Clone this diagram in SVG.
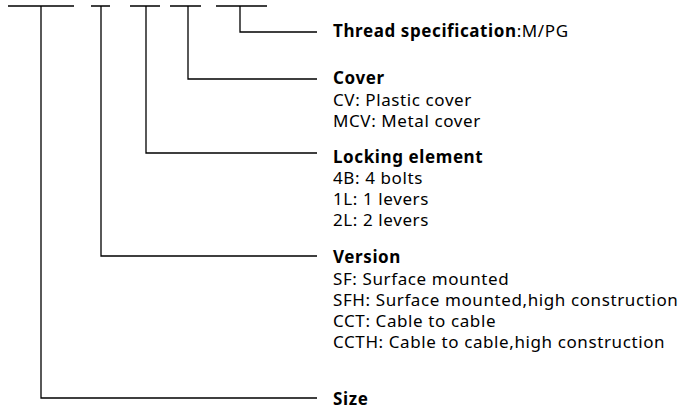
<svg xmlns="http://www.w3.org/2000/svg" width="694" height="410" viewBox="0 0 694 410">
<style>
text{font-family:"Noto Sans","Open Sans",sans-serif;font-size:17px;letter-spacing:0.6px;fill:#000}
.b{font-weight:bold;letter-spacing:0.6px}
.ln{stroke:#000;stroke-width:1.3;fill:none}
</style>
<rect width="694" height="410" fill="#fff"/>
<g id="connectors">
<path class="ln" d="M8 6H74M91 6H110M130 6H160M170 6H201M216 6H267"/>
<path class="ln" d="M41 6V398H317"/>
<path class="ln" d="M101 6V256H317"/>
<path class="ln" d="M146 6V153H317"/>
<path class="ln" d="M188 6V79H317"/>
<path class="ln" d="M240 6V32H317"/>
</g>
<g id="thread"><text x="333" y="37"><tspan class="b">Thread specification</tspan>:M/PG</text></g>
<g id="cover"><text x="333" y="84" class="b">Cover</text><text x="333" y="106">CV: Plastic cover</text><text x="333" y="127">MCV: Metal cover</text></g>
<g id="locking"><text x="333" y="163" class="b">Locking element</text><text x="333" y="184">4B: 4 bolts</text><text x="333" y="205">1L: 1 levers</text><text x="333" y="226">2L: 2 levers</text></g>
<g id="version"><text x="333" y="263" class="b">Version</text><text x="333" y="285">SF: Surface mounted</text><text x="333" y="306">SFH: Surface mounted,high construction</text><text x="333" y="327">CCT: Cable to cable</text><text x="333" y="348">CCTH: Cable to cable,high construction</text></g>
<g id="size"><text x="333" y="405" class="b">Size</text></g>
</svg>
